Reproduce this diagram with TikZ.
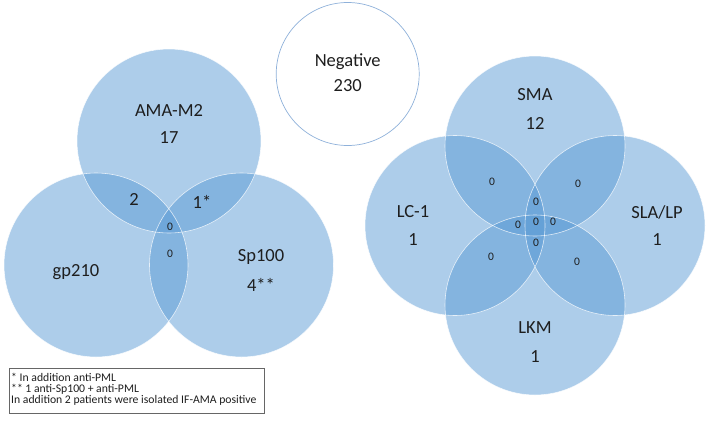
\documentclass[tikz,border=0pt]{standalone}
\usepackage{fontspec}
\setmainfont{Carlito}
\definecolor{vblue}{HTML}{5B9BD5}
\definecolor{negline}{HTML}{8FB1DA}
\definecolor{txt}{HTML}{1E1E1E}
\begin{document}
\begin{tikzpicture}[x=1pt,y=-1pt,
  vset/.style={circle,inner sep=0pt,fill=vblue,fill opacity=0.5,draw=none},
  vline/.style={circle,inner sep=0pt,draw=white,draw opacity=0.75,line width=0.6pt},
  big/.style={font=\fontsize{18.5}{22}\selectfont,text=txt,inner sep=0pt,align=center},
  small/.style={font=\fontsize{11.5}{13}\selectfont,text=txt,inner sep=0pt}]
\useasboundingbox (0,0) rectangle (709,426);
% Negative
\node[circle,inner sep=0pt,minimum size=143pt,draw=negline,line width=0.7pt,fill=white] (neg) at (347.7,74) {};
\node[big] (negt) at (347.7,62) {Negative};
\node[big] (negn) at (347.7,86) {230};
% left Venn fills
\node[vset,minimum size=184pt] (ama) at (169,141) {};
\node[vset,minimum size=184pt] (gp) at (96,265) {};
\node[vset,minimum size=184pt] (sp) at (241.5,265) {};
\node[vline,minimum size=184pt] (amal) at (169,141) {};
\node[vline,minimum size=184pt] (gpl) at (96,265) {};
\node[vline,minimum size=184pt] (spl) at (241.5,265) {};
% right Venn fills
\node[vset,minimum size=180pt] (sma) at (535,146) {};
\node[vset,minimum size=180pt] (lc) at (455,225.5) {};
\node[vset,minimum size=180pt] (sla) at (615,225.5) {};
\node[vset,minimum size=180pt] (lkm) at (535,305) {};
\node[vline,minimum size=180pt] (smal) at (535,146) {};
\node[vline,minimum size=180pt] (lcl) at (455,225.5) {};
\node[vline,minimum size=180pt] (slal) at (615,225.5) {};
\node[vline,minimum size=180pt] (lkml) at (535,305) {};
% left labels
\node[big] (t1) at (169,110) {AMA-M2};
\node[big] (t2) at (169,138) {17};
\node[big] (t3) at (134,199) {2};
\node[big] (t4) at (202,202) {1*};
\node[small] (t5) at (170,227) {0};
\node[small] (t6) at (170,254) {0};
\node[big] (t7) at (76,272) {gp210};
\node[big] (t8) at (261,257) {Sp100};
\node[big] (t9) at (261,285) {4**};
% right labels
\node[big] (r1) at (535,95) {SMA};
\node[big] (r2) at (535,123) {12};
\node[big] (r3) at (413,212) {LC-1};
\node[big] (r4) at (413,240) {1};
\node[big] (r5) at (657,212) {SLA/LP};
\node[big] (r6) at (657,240) {1};
\node[big] (r7) at (535,328) {LKM};
\node[big] (r8) at (535,357) {1};
\node[small] (z1) at (492,182) {0};
\node[small] (z2) at (578,184) {0};
\node[small] (z3) at (536,202) {0};
\node[small] (z4) at (518,225) {0};
\node[small] (z5) at (536,222) {0};
\node[small] (z6) at (553,222) {0};
\node[small] (z7) at (536,243) {0};
\node[small] (z8) at (491,257) {0};
\node[small] (z9) at (577,262) {0};
% note box
\draw[draw=gray!80!black,line width=0.6pt] (9,368) rectangle (264,413);
\node[font=\fontsize{11.7}{11}\selectfont,text=txt,inner sep=0pt,anchor=north west,align=left] (note) at (11,372.5)
  {* In addition anti-PML\\** 1 anti-Sp100 + anti-PML\\In addition 2 patients were isolated IF-AMA positive};
\end{tikzpicture}
\end{document}
